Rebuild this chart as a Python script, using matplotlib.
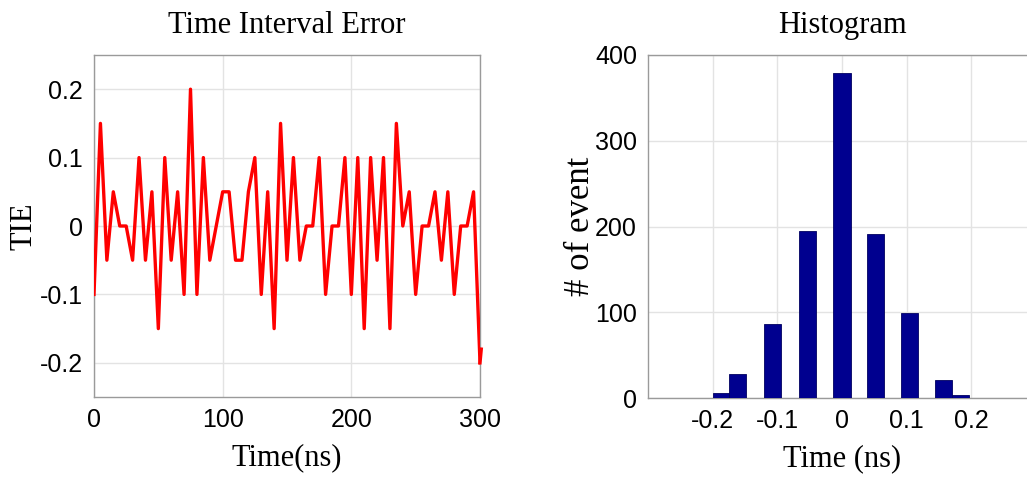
import numpy as np
import matplotlib
matplotlib.use("Agg")
import matplotlib.pyplot as plt

# TIE samples every 5 ns
time_ns = np.arange(0, 305, 5)
tie = [-0.1, 0.15, -0.05, 0.05, 0, 0, -0.05, 0.1, -0.05, 0.05,
       -0.15, 0.1, -0.05, 0.05, -0.1, 0.2, -0.1, 0.1, -0.05, 0,
       0.05, 0.05, -0.05, -0.05, 0.05, 0.1, -0.1, 0.05, -0.15, 0.15,
       -0.05, 0.1, -0.05, 0, 0, 0.1, -0.1, 0, 0, 0.1,
       -0.1, 0.1, -0.15, 0.1, -0.05, 0.1, -0.15, 0.15, 0, 0.05,
       -0.1, 0, 0, 0.05, -0.05, 0.05, -0.1, 0, 0, 0.05,
       -0.2]
tail_t = [300, 301]
tail_v = [-0.2, -0.18]

# histogram bins
bin_centers = [-0.187, -0.161, -0.108, -0.054, 0.0, 0.052, 0.105, 0.157, 0.183]
counts = [6, 28, 86, 195, 379, 191, 99, 21, 3]
bin_width = 0.0263

serif = "Liberation Serif"
sans = "Liberation Sans"
grid_c = "#e3e3e3"
frame_c = "#9a9a9a"

fig = plt.figure(figsize=(10.27, 4.79), dpi=100)
W, H = 1027, 479

ax1 = fig.add_axes([94 / W, 1 - 397 / H, 386 / W, 342 / H])
ax1.plot(time_ns, tie, color="#ff0000", lw=2.4, zorder=3)
ax1.plot(tail_t, tail_v, color="#ff0000", lw=2.4, zorder=3, clip_on=False)
ax1.set_xlim(0, 300)
ax1.set_ylim(-0.25, 0.25)
ax1.set_xticks([0, 100, 200, 300])
ax1.set_yticks([-0.2, -0.1, 0, 0.1, 0.2])
ax1.set_yticklabels(["-0.2", "-0.1", "0", "0.1", "0.2"])
ax1.set_title("Time Interval Error", fontfamily=serif, fontsize=22, pad=16)
ax1.set_xlabel("Time(ns)", fontfamily=serif, fontsize=22, labelpad=8)
ax1.set_ylabel("TIE", fontfamily=serif, fontsize=22)
ax1.yaxis.set_label_coords(-0.145, 0.5)

ax2 = fig.add_axes([648 / W, 1 - 398 / H, 388 / W, 343 / H])
ax2.bar(bin_centers, counts, width=bin_width, color="#00008f",
        edgecolor="#000060", lw=0.6, zorder=3)
ax2.set_xlim(-0.3, 0.3)
ax2.set_ylim(0, 400)
ax2.set_xticks([-0.2, -0.1, 0, 0.1, 0.2])
ax2.set_xticklabels(["-0.2", "-0.1", "0", "0.1", "0.2"])
ax2.set_yticks([0, 100, 200, 300, 400])
ax2.set_title("Histogram", fontfamily=serif, fontsize=22, pad=16)
ax2.set_xlabel("Time (ns)", fontfamily=serif, fontsize=22, labelpad=8)
ax2.set_ylabel("# of event", fontfamily=serif, fontsize=25)
ax2.yaxis.set_label_coords(-0.131, 0.5)

for ax in (ax1, ax2):
    ax.grid(True, color=grid_c, lw=1.0, zorder=0)
    ax.set_axisbelow(True)
    ax.tick_params(length=0, labelsize=18, pad=8)
    for lab in ax.get_xticklabels() + ax.get_yticklabels():
        lab.set_fontfamily(sans)
    for sp in ax.spines.values():
        sp.set_color(frame_c)
        sp.set_linewidth(1.0)

fig.savefig("out.png", dpi=100)
